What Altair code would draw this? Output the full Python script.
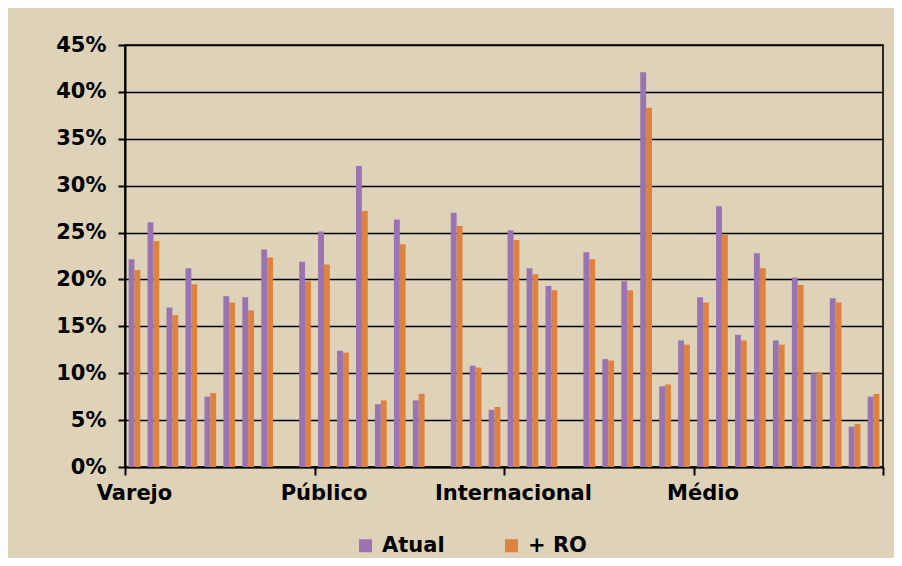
import altair as alt
import pandas as pd

# Category index (40 categories, label shown every 10th)
group_labels = ["Varejo", "Público", "Internacional", "Médio", ""]
group_ticks = [0, 10, 20, 30, 40]

series_names = ["Atual", "+ RO"]
series_colors = ["#9A74B2", "#DE8240"]

atual = [22.15, 26.1, 17.0, 21.2, 7.5, 18.2, 18.1, 23.2, None, 21.9,
         25.1, 12.4, 32.1, 6.7, 26.4, 7.1, None, 27.1, 10.8, 6.1,
         25.25, 21.2, 19.3, None, 22.9, 11.5, 19.8, 42.1, 8.6, 13.5,
         18.1, 27.8, 14.1, 22.8, 13.5, 20.2, 10.0, 18.0, 4.3, 7.5]
mais_ro = [21.0, 24.1, 16.2, 19.5, 7.9, 17.55, 16.7, 22.35, None, 19.8,
           21.6, 12.2, 27.3, 7.1, 23.75, 7.8, None, 25.7, 10.6, 6.4,
           24.2, 20.55, 18.85, None, 22.15, 11.35, 18.85, 38.3, 8.8, 13.05,
           17.55, 24.8, 13.5, 21.2, 13.05, 19.4, 10.1, 17.55, 4.6, 7.8]

rows = []
for i, (a, r) in enumerate(zip(atual, mais_ro)):
    if a is not None:
        rows.append({"idx": i, "series": "Atual", "value": a / 100})
    if r is not None:
        rows.append({"idx": i, "series": "+ RO", "value": r / 100})
df = pd.DataFrame(rows)

label_expr = " : ".join(
    f"datum.value == {t} ? '{l}'" for t, l in zip(group_ticks, group_labels)
) + " : ''"

FONT = "DejaVu Sans"

bars = alt.Chart(df).transform_calculate(
    x0="datum.idx + 0.5 + (datum.series == 'Atual' ? -0.31 : 0)",
    x1="datum.idx + 0.5 + (datum.series == 'Atual' ? 0 : 0.31)",
).mark_bar().encode(
    x=alt.X("x0:Q",
            scale=alt.Scale(domain=[0, 40], nice=False, zero=False),
            axis=alt.Axis(values=group_ticks, labelExpr=label_expr, title=None,
                          grid=False, domainColor="black", domainWidth=2,
                          tickColor="black", tickWidth=2, tickSize=8,
                          labelFont=FONT, labelFontSize=21, labelFontWeight="bold",
                          labelColor="black", labelAlign="center", labelOffset=9,
                          labelPadding=7, labelFlush=False)),
    x2="x1:Q",
    y=alt.Y("value:Q",
            scale=alt.Scale(domain=[0, 0.45], nice=False),
            axis=alt.Axis(values=[i / 100 for i in range(0, 50, 5)], format=".0%",
                          title=None, grid=True, gridColor="black", gridWidth=1.6,
                          domainColor="black", domainWidth=2,
                          tickColor="black", tickWidth=2, tickSize=7,
                          labelFont=FONT, labelFontSize=21, labelFontWeight="bold",
                          labelColor="black", labelPadding=12)),
    y2=alt.datum(0),
    color=alt.Color("series:N",
                    scale=alt.Scale(domain=series_names, range=series_colors),
                    sort=series_names,
                    legend=alt.Legend(title=None, orient="none", direction="horizontal",
                                      legendX=230, legendY=490,
                                      symbolType="square", symbolSize=169,
                                      symbolStrokeWidth=0, symbolOpacity=1,
                                      labelFont=FONT, labelFontSize=21,
                                      labelFontWeight="bold", labelColor="black",
                                      labelOffset=6, columnPadding=56)),
)

chart = bars.properties(
    width=758,
    height=422,
    background="#DED3B8",
    padding={"left": 117, "top": 37, "right": 11, "bottom": 91},
    autosize=alt.AutoSizeParams(type="none"),
).configure_view(
    stroke="black", strokeWidth=1.6, fill="#DED3B8"
)

chart.save("out.html", embed_options={"renderer": "svg", "actions": False})
